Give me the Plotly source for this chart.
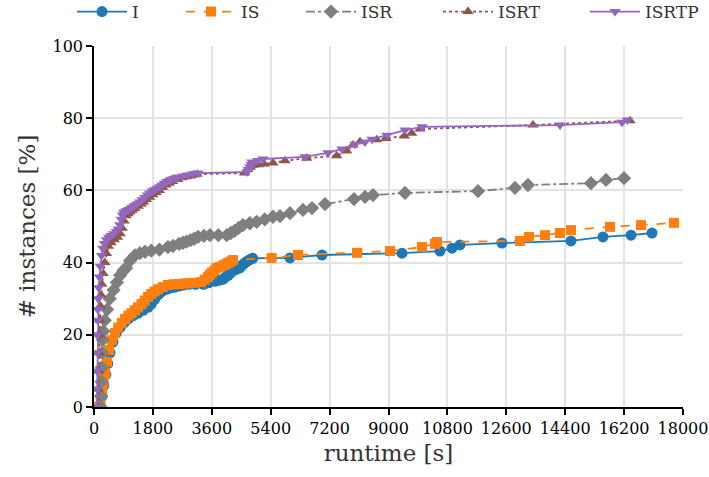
import plotly.graph_objects as go

# ---- data (runtime in s, % instances solved) ----
I_x = [200, 250, 300, 360, 420, 490, 580, 680, 800, 920, 1050, 1200, 1350, 1500, 1650, 1750, 1850, 1950, 2020,
       2100, 2220, 2350, 2470, 2600, 2750, 2900, 3100, 3350, 3500, 3700, 3820, 3950, 4020, 4100, 4150, 4200, 4320,
       4450, 4500, 4550, 4620, 4700, 4780, 4850, 5990, 6968, 9412, 10574, 10940, 11185, 12468, 14577, 15555,
       16411, 17052]
I_y = [0, 3, 6, 9, 12, 15, 18, 20.5, 22, 23.3, 24.4, 25.3, 26, 26.8, 27.6, 28.5, 29.8, 31, 31.6,
       32.2, 32.6, 33, 33.2, 33.5, 33.8, 34, 34, 34, 34.4, 34.8, 35.1, 35.4, 36, 36.5, 37, 37.4, 38,
       38.5, 39, 39.5, 40, 40.5, 40.9, 41.2, 41.3, 42.1, 42.6, 43.2, 44.0, 44.9, 45.4, 46.0, 47.1,
       47.6, 48.2]

IS_x = [150, 200, 250, 290, 340, 400, 460, 550, 640, 740, 850, 950, 1050, 1150, 1250, 1345, 1450, 1550, 1650,
        1750, 1850, 1956, 2100, 2261, 2430, 2600, 2740, 2873, 3070, 3270, 3380, 3484, 3540, 3600, 3680, 3749, 3850,
        3950, 4020, 4095, 4170, 4248, 5430, 6234, 8037, 9045, 10024, 10421, 10482, 13019, 13294, 13783, 14241,
        14577, 15769, 16717, 17724]
IS_y = [0, 2, 4.5, 7, 9.4, 12.5, 15.8, 18.5, 20.5, 22, 23.3, 24.4, 25.3, 26, 26.8, 27.6, 28.5, 29.5, 30.5,
        31.3, 32, 32.6, 33.2, 33.8, 34.0, 34.1, 34.2, 34.3, 34.4, 34.6, 35.3, 36.0, 36.6, 37.2, 37.8, 38.5, 38.8,
        39.2, 39.5, 39.9, 40.3, 40.7, 41.3, 42.1, 42.7, 43.2, 44.3, 45.2, 45.7, 46.0, 47.1, 47.6, 48.2,
        49.0, 49.9, 50.4, 51.0]

ISR_x = [200, 215, 230, 240, 250, 265, 290, 330, 400, 480, 600, 700, 800, 900, 980, 1100, 1250, 1400, 1560,
         1750, 2000, 2260, 2414, 2600, 2720, 2830, 2950, 3060, 3178, 3360, 3545, 3800, 4056, 4180, 4300, 4420,
         4553, 4760, 4972, 5220, 5470, 5684, 5990, 6387, 6662, 7059, 7946, 8282, 8526, 9504, 11735, 12865,
         13263, 15188, 15647, 16197]
ISR_y = [0, 3, 7, 11, 15, 18.6, 21, 24, 27, 30, 32.4, 34.5, 36.5, 37.8, 38.5, 40.5, 42, 42.6, 43,
         43.3, 43.6, 44.3, 44.6, 45.2, 45.5, 45.8, 46.2, 46.6, 47.1, 47.4, 47.6, 47.6, 47.6, 48.2, 48.8, 49.6,
         50.4, 50.9, 51.3, 52, 52.7, 52.9, 53.7, 54.6, 55.1, 56.2, 57.6, 58.2, 58.7, 59.3, 59.8, 60.7,
         61.5, 62.0, 62.9, 63.4]

ISRT_x = [130, 140, 150, 160, 170, 180, 195, 215, 240, 280, 330, 380, 440, 520, 620, 720, 800, 860, 920, 980,
          1040, 1100, 1170, 1250, 1350, 1450, 1520, 1600, 1700, 1800, 1900, 2000, 2100, 2200, 2300, 2400, 2550,
          2700, 2820, 2950, 3050, 3150, 4600, 4700, 4780, 4859, 5030, 5200, 5470, 5837, 6499, 7416, 7721, 7915,
          8129, 8639, 8924, 9483, 9708, 9962, 13416, 16380]
ISRT_y = [0, 5, 10, 15, 20, 24, 28, 31, 34, 37, 40, 42.5, 44.5, 45.5, 46.3, 47, 48, 49.5, 51.5, 53,
          53.5, 54, 54.5, 55, 55.6, 56.2, 56.8, 57.5, 58.1, 58.8, 59.4, 60, 60.8, 61.5, 62, 62.5, 63,
          63.5, 63.8, 64, 64.3, 64.5, 64.8, 65.8, 66.4, 67, 67.1, 67.3, 67.6, 68.2, 68.9, 69.6, 70.9, 72.6,
          73.5, 74.0, 74.4, 75.1, 75.8, 77.0, 78.1, 79.3]

ISRTP_x = [90, 95, 100, 105, 110, 115, 120, 130, 145, 165, 190, 230, 270, 320, 380, 450, 520, 600, 680, 740,
           790, 830, 870, 910, 950, 1000, 1065, 1131, 1190, 1250, 1320, 1396, 1470, 1550, 1630, 1700, 1780, 1850,
           1930, 2008, 2080, 2150, 2230, 2313, 2380, 2450, 2510, 2567, 2720, 2873, 3030, 3178, 4676, 4720, 4760,
           4800, 4828, 5000, 5165, 6448, 7151, 7579, 7976, 8282, 8496, 8954, 9504, 10024, 14241, 16136, 16300]
ISRTP_y = [0, 5, 10, 15, 20, 24, 27, 30, 33, 36, 39, 42, 44, 45.3, 46.3, 47, 47.5, 48, 48.6, 49.3,
           50.5, 52, 53.2, 53.8, 54.1, 54.4, 54.7, 55.1, 55.4, 55.8, 56.3, 56.8, 57.4, 58, 58.7, 59.3, 59.8, 60.2,
           60.6, 61.0, 61.5, 62, 62.5, 62.9, 63.1, 63.3, 63.5, 63.7, 64, 64.3, 64.6, 64.8, 65.1, 65.8, 66.5,
           67.2, 67.9, 68.3, 68.7, 69.3, 70.4, 71.5, 72.8, 73.4, 74.2, 75.3, 76.7, 77.6, 78.1, 78.9, 79.5]

x_ticks = [0, 1800, 3600, 5400, 7200, 9000, 10800, 12600, 14400, 16200, 18000]
y_ticks = [0, 20, 40, 60, 80, 100]

FONT = "DejaVu Serif"

series = [
    ("I", I_x, I_y, "#1f77b4", "solid", "circle", 11),
    ("IS", IS_x, IS_y, "#ff7f0e", "dash", "square", 10),
    ("ISR", ISR_x, ISR_y, "#7f7f7f", "dashdot", "diamond", 11),
    ("ISRT", ISRT_x, ISRT_y, "#8c564b", "dot", "triangle-up", 10),
    ("ISRTP", ISRTP_x, ISRTP_y, "#9467bd", "solid", "triangle-down", 10),
]
# legend label left edges (pixels) in the reference
legend_text_px = [132, 241, 361, 498, 645]

fig = go.Figure()
for i, (name, xs, ys, color, dash, sym, size) in enumerate(series):
    lname = "legend" if i == 0 else f"legend{i + 1}"
    fig.add_trace(go.Scatter(
        x=xs, y=ys, name=name, mode="lines+markers",
        line=dict(color=color, width=1.8, dash=dash),
        marker=dict(symbol=sym, size=size, color=color),
        legend=lname,
    ))

axis_common = dict(
    showline=True, linecolor="black", linewidth=1.5,
    ticks="outside", ticklen=6, tickwidth=1.5, tickcolor="black",
    showgrid=True, gridcolor="#e3e3e3", gridwidth=1.5,
    zeroline=False, tickangle=0, tickfont=dict(family=FONT, size=16, color="black"),
)

PL, PR, PT, PB = 94, 26, 46, 70
pw = 709 - PL - PR
ph = 477 - PT - PB

layout = dict(
    width=709, height=477,
    margin=dict(l=PL, r=PR, t=PT, b=PB, autoexpand=False),
    paper_bgcolor="white", plot_bgcolor="white",
    font=dict(family=FONT, color="black"),
    xaxis=dict(range=[0, 18000], tickvals=x_ticks, ticktext=[str(v) for v in x_ticks],
               title=dict(text="runtime [s]", font=dict(family=FONT, size=23, color="#333"), standoff=8),
               **axis_common),
    yaxis=dict(range=[0, 100], tickvals=y_ticks,
               title=dict(text="# instances [%]", font=dict(family=FONT, size=23, color="#333"), standoff=10),
               **axis_common),
    showlegend=True,
)
for i, px in enumerate(legend_text_px):
    lname = "legend" if i == 0 else f"legend{i + 1}"
    layout[lname] = dict(orientation="h", x=(px - 60 - PL) / pw, xanchor="left",
                         y=(407 - 12) / ph, yanchor="middle",
                         font=dict(family=FONT, size=17, color="#333"), itemwidth=50,
                         bgcolor="rgba(0,0,0,0)", borderwidth=0)
fig.update_layout(**layout)

fig.write_html("out.html", config={"displayModeBar": False},
               post_script="document.body.style.margin='0';")
